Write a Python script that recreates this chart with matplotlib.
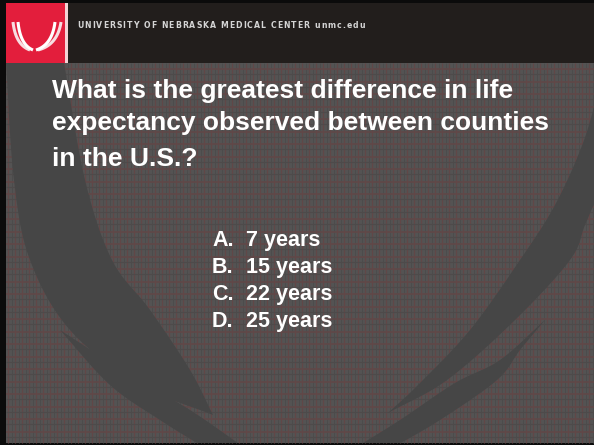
import numpy as np
import matplotlib
matplotlib.use("Agg")
import matplotlib.pyplot as plt
from matplotlib.patches import Rectangle, Polygon
from matplotlib.font_manager import FontProperties

# ---- slide content ----
header_text = "UNIVERSITY OF NEBRASKA MEDICAL CENTER unmc.edu"
question_lines = ["What is the greatest difference in life",
                  "expectancy observed between counties",
                  "in the U.S.?"]
option_letters = ["A.", "B.", "C.", "D."]
option_values = ["7 years", "15 years", "22 years", "25 years"]

W, H = 594, 445
fig = plt.figure(figsize=(5.94, 4.45), dpi=100)
fig.patch.set_facecolor("#0b0b0b")
ax = fig.add_axes([0, 0, 1, 1])
ax.set_xlim(0, W)
ax.set_ylim(H, 0)
ax.axis("off")

BODY_X0, BODY_X1, BODY_Y0, BODY_Y1 = 6, 594, 63, 443


def catmull(pts, n=40):
    pts = np.asarray(pts, float)
    p = np.vstack([pts[0] * 2 - pts[1], pts, pts[-1] * 2 - pts[-2]])
    out = []
    for i in range(1, len(p) - 2):
        p0, p1, p2, p3 = p[i - 1], p[i], p[i + 1], p[i + 2]
        t = np.linspace(0, 1, n, endpoint=False)[:, None]
        seg = 0.5 * ((2 * p1) + (-p0 + p2) * t + (2 * p0 - 5 * p1 + 4 * p2 - p3) * t ** 2
                     + (-p0 + 3 * p1 - 3 * p2 + p3) * t ** 3)
        out.append(seg)
    out.append(p[-2][None, :])
    return np.vstack(out)


def band(edge_a, edge_b, color, z):
    a = catmull(edge_a)
    b = catmull(edge_b)[::-1]
    poly = Polygon(np.vstack([a, b]), closed=True, facecolor=color, edgecolor="none", zorder=z)
    ax.add_patch(poly)
    poly.set_clip_path(body)


# body background
body = Rectangle((BODY_X0, BODY_Y0), BODY_X1 - BODY_X0, BODY_Y1 - BODY_Y0,
                 facecolor="#545353", edgecolor="none", zorder=1)
ax.add_patch(body)

# plaid texture
xs = np.arange(BODY_X0 + 2, BODY_X1, 7.0)
ax.vlines(xs, BODY_Y0, BODY_Y1, color="#614747", lw=0.9, zorder=2)
ax.vlines(xs + 3.5, BODY_Y0, BODY_Y1, color="#4c4c4c", lw=0.7, zorder=2)
ys = np.arange(BODY_Y0 + 6, BODY_Y1, 12.5)
ax.hlines(ys, BODY_X0, BODY_X1, color="#614747", lw=1.1, zorder=2)
ax.hlines(ys + 5, BODY_X0, BODY_X1, color="#4e4a4a", lw=0.8, zorder=2)

SW = "#464646"
# left big swoosh ending in a tip
band([(6, 63), (14, 180), (30, 260), (70, 330), (140, 385), (213, 415)],
     [(64, 63), (85, 180), (112, 260), (150, 310), (190, 370), (213, 415)], SW, 3)
# left outer swoosh
band([(60, 330), (110, 385), (160, 420), (205, 448)],
     [(60, 330), (130, 375), (190, 410), (245, 448)], SW, 3)
# right big swoosh ending in a tip
band([(600, 85), (583, 143), (555, 205), (520, 260), (470, 330), (418, 385), (388, 413)],
     [(600, 190), (585, 225), (570, 260), (515, 320), (447, 380), (388, 413)], SW, 3)
# right outer swoosh
band([(545, 320), (500, 360), (455, 383), (400, 420), (355, 448)],
     [(545, 320), (520, 350), (497, 380), (440, 420), (392, 448)], SW, 3)

# header
ax.add_patch(Rectangle((6, 3), W - 6, 60, facecolor="#221e1c", edgecolor="none", zorder=5))
ax.add_patch(Rectangle((6, 3), 59, 60, facecolor="#e31e3c", edgecolor="none", zorder=6))
ax.add_patch(Rectangle((65, 3), 3, 60, facecolor="#f3d3d6", edgecolor="none", zorder=6))

# logo strokes
for (x0, x1, c) in [(13, 30, "#f7dde1"), (18, 33, "#ffffff"), (61, 38, "#f7dde1"), (55, 36, "#ffffff")]:
    t = np.linspace(0, 1, 30)
    px = (1 - t) ** 2 * x0 + 2 * (1 - t) * t * (x0 + (x1 - x0) * 0.15) + t ** 2 * x1
    py = (1 - t) ** 2 * 22 + 2 * (1 - t) * t * 45 + t ** 2 * 50
    ax.plot(px, py, color=c, lw=2.2, solid_capstyle="butt", zorder=7)

# letter-spaced header text (advance widths from the renderer)
hfs = 5.6
fp = FontProperties(family="DejaVu Sans", weight="bold", size=hfs)
renderer = fig.canvas.get_renderer()
x_start, x_end = 77.0, 365.0
widths = []
for ch in header_text:
    w, _, _ = renderer.get_text_width_height_descent(ch if ch != " " else "i", fp, ismath=False)
    widths.append(w)
spacing = (x_end - x_start - sum(widths)) / (len(header_text) - 1)
x = x_start
for ch, w in zip(header_text, widths):
    ax.text(x, 25, ch, color="#d5d5d5", fontproperties=fp, va="center", ha="left", zorder=8)
    x += w + spacing

# question
q_base = [98, 130, 166]
for line, yb in zip(question_lines, q_base):
    ax.text(52, yb, line, color="white", fontsize=19, fontweight="bold",
            family="Liberation Sans", va="baseline", ha="left", zorder=8)

# options
for i, (let, val) in enumerate(zip(option_letters, option_values)):
    yb = 246 + 27 * i
    ax.text(212, yb, let, color="white", fontsize=15.5, fontweight="bold",
            family="Liberation Sans", va="baseline", ha="left", zorder=8)
    ax.text(246, yb, val, color="white", fontsize=15.5, fontweight="bold",
            family="Liberation Sans", va="baseline", ha="left", zorder=8)

fig.savefig("out.png", dpi=100, facecolor=fig.get_facecolor())
